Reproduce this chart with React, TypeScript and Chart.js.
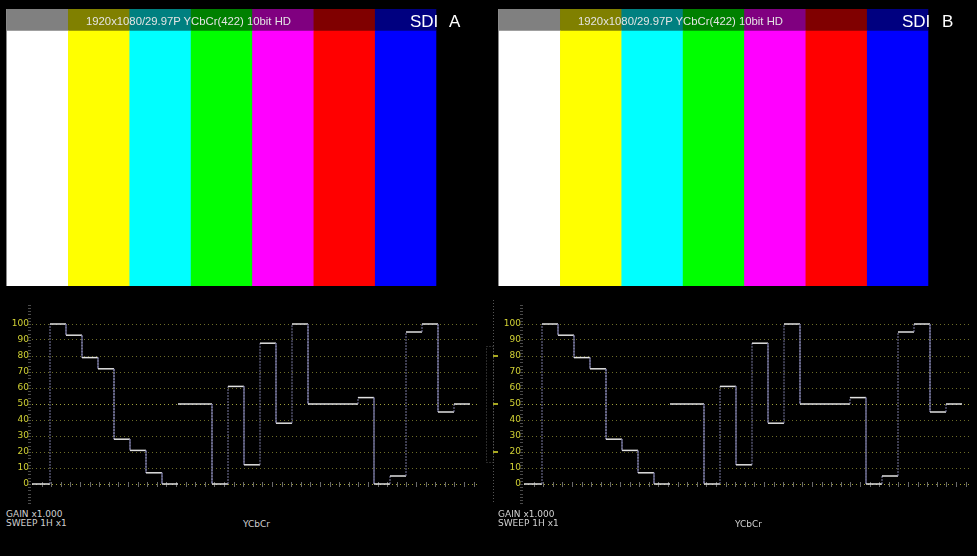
import React, { useEffect, useRef } from 'react';
import { Chart, registerables } from 'chart.js';

Chart.register(...registerables);

// ---- Colour bar data ----
const barLabels = ['White', 'Yellow', 'Cyan', 'Green', 'Magenta', 'Red', 'Blue', 'Black'];
const barColors = ['#ffffff', '#ffff00', '#00ffff', '#00ff00', '#ff00ff', '#ff0000', '#0000ff', '#000000'];
const headerColors = ['#808080', '#808000', '#008080', '#008000', '#800080', '#800000', '#000080', '#000000'];
const barBody = [92, 92, 92, 92, 92, 92, 92, 92];
const barHeader = [8, 8, 8, 8, 8, 8, 8, 8];

// ---- Waveform data (blanking + 8 bars per channel) ----
const yLevels = [0, 100, 93, 79, 72, 28, 21, 7, 0];
const cbLevels = [50, 50, 0, 61, 12, 88, 38, 100, 50];
const crLevels = [50, 50, 54, 0, 5, 95, 100, 45, 50];
const segmentWidths = [1.125, 1, 1, 1, 1, 1, 1, 1, 1];
const waveTicks = [0, 10, 20, 30, 40, 50, 60, 70, 80, 90, 100];
const bracketTicks = [80, 50, 20];

const headerText = '1920x1080/29.97P YCbCr(422) 10bit HD';

const channelWidth = segmentWidths.reduce((a, b) => a + b, 0);

function channelPoints(levels: number[], start: number) {
  const pts: { x: number; y: number }[] = [];
  let x = start;
  levels.forEach((lv, i) => {
    pts.push({ x, y: lv });
    x += segmentWidths[i];
    pts.push({ x, y: lv });
  });
  return pts;
}

const TRACE = '#e2e2e2';
const EDGE = '#7a7aa2';

function barConfig(): any {
  return {
    type: 'bar',
    data: {
      labels: barLabels,
      datasets: [
        { label: 'bars', data: barBody, backgroundColor: barColors, borderWidth: 0, barPercentage: 1, categoryPercentage: 1, stack: 's' },
        { label: 'header', data: barHeader, backgroundColor: headerColors, borderWidth: 0, barPercentage: 1, categoryPercentage: 1, stack: 's' },
      ],
    },
    options: {
      animation: false,
      responsive: false,
      events: [],
      layout: { padding: 0 },
      plugins: { legend: { display: false }, tooltip: { enabled: false } },
      scales: {
        x: { display: false, stacked: true },
        y: { display: false, stacked: true, min: 0, max: 100 },
      },
    },
  };
}

function waveConfig(axisWidth: number, padRight: number, bracket: boolean): any {
  const extras = {
    id: 'waveExtras',
    beforeDatasetsDraw(chart: any) {
      const { ctx, chartArea, scales } = chart;
      const ys = scales.y;
      const xs = scales.x;
      ctx.save();
      // minor ticks ladder
      ctx.strokeStyle = '#4a4a4a';
      ctx.lineWidth = 1;
      for (let v = -12; v <= 112; v += 2) {
        const py = Math.round(ys.getPixelForValue(v)) + 0.5;
        ctx.beginPath();
        ctx.moveTo(chartArea.left - 4, py);
        ctx.lineTo(chartArea.left - 1, py);
        ctx.stroke();
      }
      // small time ticks on the zero line
      const z = Math.round(ys.getPixelForValue(0));
      ctx.strokeStyle = '#6a6a6a';
      for (let u = 0.6; u < xs.max; u += 0.6) {
        const px = Math.round(xs.getPixelForValue(u)) + 0.5;
        ctx.beginPath();
        ctx.moveTo(px, z - 2);
        ctx.lineTo(px, z + 3);
        ctx.stroke();
      }
      if (bracket) {
        const l = chartArea.left;
        ctx.setLineDash([1, 2]);
        ctx.strokeStyle = '#555555';
        const top = Math.round(ys.getPixelForValue(86)) + 0.5;
        const bot = Math.round(ys.getPixelForValue(14)) + 0.5;
        ctx.strokeRect(l - 38 + 0.5, top, 7, bot - top);
        ctx.beginPath();
        ctx.moveTo(l - 30.5, 0);
        ctx.lineTo(l - 30.5, chart.height);
        ctx.stroke();
        ctx.setLineDash([]);
        ctx.strokeStyle = '#a8a820';
        ctx.lineWidth = 2;
        bracketTicks.forEach((v) => {
          const py = Math.round(ys.getPixelForValue(v));
          ctx.beginPath();
          ctx.moveTo(l - 31, py);
          ctx.lineTo(l - 26, py);
          ctx.stroke();
        });
      }
      ctx.restore();
    },
  };
  const isV = (c: any) => c.p0.parsed.x === c.p1.parsed.x;
  const mk = (label: string, levels: number[], idx: number) => ({
    label,
    data: channelPoints(levels, idx * channelWidth),
    borderColor: TRACE,
    borderWidth: 1.5,
    pointRadius: 0,
    tension: 0,
    fill: false,
    segment: {
      borderColor: (c: any) => (isV(c) ? EDGE : TRACE),
      borderWidth: (c: any) => (isV(c) ? 1 : 1.5),
      borderDash: (c: any) => (isV(c) ? [2, 1] : undefined),
    },
  });
  return {
    type: 'line',
    data: { datasets: [mk('Y', yLevels, 0), mk('Cb', cbLevels, 1), mk('Cr', crLevels, 2)] },
    options: {
      animation: false,
      responsive: false,
      events: [],
      layout: { padding: { left: 0, top: 0, bottom: 0, right: padRight } },
      plugins: { legend: { display: false }, tooltip: { enabled: false } },
      scales: {
        x: { type: 'linear', display: false, min: 0, max: 447 / 16 },
        y: {
          type: 'linear',
          min: -12.5,
          max: 115,
          afterBuildTicks: (a: any) => {
            a.ticks = waveTicks.map((v) => ({ value: v }));
          },
          afterFit: (a: any) => {
            a.width = axisWidth;
            a.paddingTop = 0;
            a.paddingBottom = 0;
          },
          grid: {
            drawTicks: false,
            lineWidth: 1,
            color: (c: any) => (c.tick && (c.tick.value === 0 || c.tick.value === 50) ? '#a0a03c' : '#6c6c28'),
          },
          border: { display: false, dash: [1, 3] },
          ticks: {
            color: '#d2d234',
            padding: 3,
            font: { family: 'DejaVu Sans', size: 9 },
          },
        },
      },
    },
    plugins: [extras],
  };
}

function ChartCanvas({ make, left, top, width, height }: { make: () => any; left: number; top: number; width: number; height: number }) {
  const ref = useRef<HTMLCanvasElement | null>(null);
  useEffect(() => {
    const chart = new Chart(ref.current as HTMLCanvasElement, make());
    return () => chart.destroy();
  }, []);
  return (
    <canvas
      ref={ref}
      width={width}
      height={height}
      style={{ position: 'absolute', left, top, width, height, display: 'block' }}
    />
  );
}

const txt = (left: number, top: number, size: number, family: string, color: string, extra: any = {}) => ({
  position: 'absolute' as const,
  left,
  top,
  fontSize: size,
  fontFamily: family,
  color,
  lineHeight: 'normal',
  whiteSpace: 'pre' as const,
  margin: 0,
  ...extra,
});

function Panel({ off, name, waveLeft, waveWidth, axisWidth, padRight, bracket }: any) {
  return (
    <>
      <ChartCanvas make={barConfig} left={7 + off} top={9} width={491} height={277} />
      <div style={{ position: 'absolute', left: 6 + off, top: 9, width: 1, height: 277, background: '#8a8a8a' }} />
      <div style={txt(86 + off, 14.8, 11.3, '"Liberation Sans", Arial, sans-serif', '#e4e4e4')}>{headerText}</div>
      <div style={txt(410 + off, 11.6, 17, '"Liberation Sans", Arial, sans-serif', '#ffffff', { wordSpacing: '7px' })}>{name}</div>
      <ChartCanvas make={() => waveConfig(axisWidth, padRight, bracket)} left={waveLeft} top={300} width={waveWidth} height={204} />
      <div style={txt(6 + off, 509.3, 9, '"DejaVu Sans", sans-serif', '#d0d0d0')}>GAIN x1.000</div>
      <div style={txt(6 + off, 518.3, 9, '"DejaVu Sans", sans-serif', '#d0d0d0')}>SWEEP 1H x1</div>
      <div style={txt(243 + off, 518.6, 9, '"DejaVu Sans", sans-serif', '#d0d0d0')}>YCbCr</div>
    </>
  );
}

export default function App() {
  return (
    <div
      style={{
        position: 'fixed',
        left: 0,
        top: 0,
        width: 977,
        height: 556,
        background: '#000000',
        overflow: 'hidden',
      }}
    >
      <Panel off={0} name="SDI A" waveLeft={0} waveWidth={490} axisWidth={32} padRight={11} bracket={false} />
      <Panel off={492} name="SDI B" waveLeft={482} waveWidth={495} axisWidth={42} padRight={6} bracket={true} />
    </div>
  );
}
